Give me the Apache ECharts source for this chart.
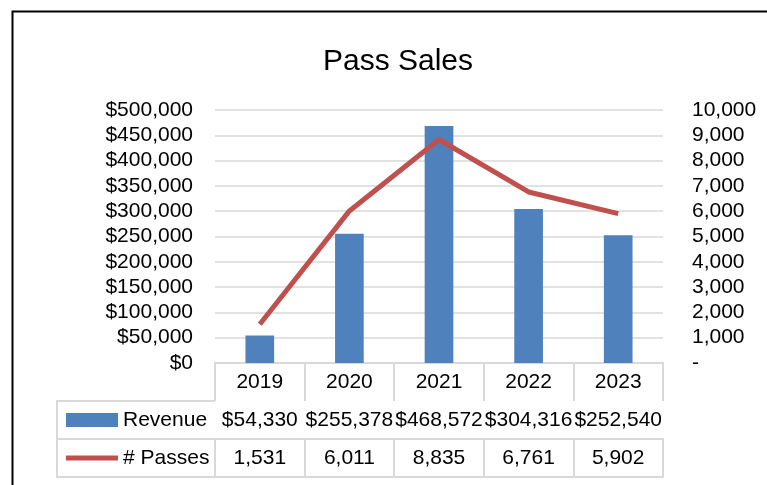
<!DOCTYPE html>
<html>
<head>
<meta charset="utf-8">
<script src="https://cdn.jsdelivr.net/npm/echarts@6/dist/echarts.min.js"></script>
<style>
  html, body { margin: 0; padding: 0; background: #fff; }
  #chart { width: 767px; height: 485px; }
</style>
</head>
<body>
<div id="chart"></div>
<script>
// 数据
const years = ['2019', '2020', '2021', '2022', '2023'];
const revenue = [54330, 255378, 468572, 304316, 252540];
const passes = [1531, 6011, 8835, 6761, 5902];

const FONT = "'Liberation Sans', Arial, sans-serif";
const BORDER = '#d9d9d9';
const fmt = v => Number(v).toLocaleString('en-US');

// 数据表的行（用额外的 x 轴画）
const tableAxis = (offset, values, prefix) => ({
	type: 'category',
	position: 'bottom',
	offset: offset,
	data: years,
	axisLine: { show: true, lineStyle: { color: BORDER, width: 2 } },
	axisTick: { show: values !== null, length: 38, interval: 0, lineStyle: { color: BORDER, width: 2 } },
	axisLabel: {
		show: values !== null,
		interval: 0,
		margin: 9,
		color: '#000',
		fontFamily: FONT,
		fontSize: 21,
		formatter: (v, idx) => prefix + fmt(values[idx]),
	},
});

const chart = echarts.init(document.getElementById('chart'));
chart.setOption({
	animation: false,
	title: {
		text: 'Pass Sales',
		left: 393,
		top: 42,
		textAlign: 'center',
		textStyle: { color: '#000', fontFamily: FONT, fontSize: 30, fontWeight: 'normal' },
	},
	legend: {
		orient: 'vertical',
		left: 66,
		top: 408,
		padding: 0,
		itemWidth: 52,
		itemHeight: 14,
		itemGap: 14,
		textStyle: { color: '#000', fontFamily: FONT, fontSize: 21, lineHeight: 24 },
		data: [
			{ name: 'Revenue', icon: 'rect' },
			{ name: '# Passes', icon: 'path://M0,0L52,0L52,5L0,5Z' },
		],
	},
	grid: { left: 215, right: 104, top: 110, bottom: 122 },
	xAxis: [
		{
			type: 'category',
			data: years,
			axisLine: { lineStyle: { color: BORDER, width: 2 } },
			axisTick: { show: true, length: 38, interval: 0, lineStyle: { color: BORDER, width: 2 } },
			axisLabel: { interval: 0, margin: 9, color: '#000', fontFamily: FONT, fontSize: 21 },
		},
		tableAxis(38, revenue, '$'),
		tableAxis(76, passes, ''),
		tableAxis(114, null, ''),
	],
	yAxis: [
		{
			type: 'value',
			min: 0,
			max: 500000,
			interval: 50000,
			axisLine: { show: false },
			axisTick: { show: false },
			splitLine: { lineStyle: { color: BORDER, width: 1.5 } },
			axisLabel: { margin: 22, color: '#000', fontFamily: FONT, fontSize: 21, formatter: v => '$' + fmt(v) },
		},
		{
			type: 'value',
			min: 0,
			max: 10000,
			interval: 1000,
			axisLine: { show: false },
			axisTick: { show: false },
			splitLine: { show: false },
			axisLabel: { margin: 29, color: '#000', fontFamily: FONT, fontSize: 21, formatter: v => (v === 0 ? '-' : fmt(v)) },
		},
	],
	series: [
		{
			name: 'Revenue',
			type: 'bar',
			data: revenue,
			barWidth: '32%',
			itemStyle: { color: '#4f81bd' },
		},
		{
			name: '# Passes',
			type: 'line',
			yAxisIndex: 1,
			data: passes,
			symbol: 'none',
			lineStyle: { color: '#c0504d', width: 5 },
			itemStyle: { color: '#c0504d' },
		},
	],
	graphic: [
		{
			type: 'rect',
			shape: { x: 12.5, y: 11.5, width: 800, height: 500 },
			style: { fill: 'none', stroke: '#000', lineWidth: 2 },
		},
		{
			type: 'polyline',
			shape: { points: [[215, 401], [57, 401], [57, 477], [215, 477]] },
			style: { fill: 'none', stroke: BORDER, lineWidth: 2 },
		},
		{
			type: 'line',
			shape: { x1: 57, y1: 439, x2: 215, y2: 439 },
			style: { stroke: BORDER, lineWidth: 2 },
		},
	],
});
</script>
</body>
</html>
